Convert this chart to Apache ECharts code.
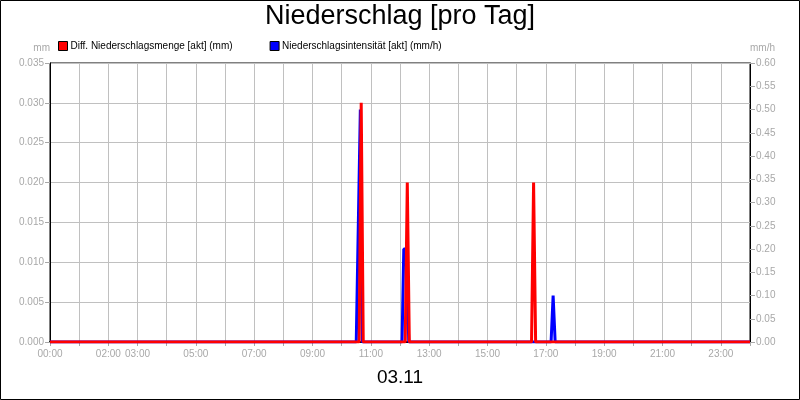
<!DOCTYPE html>
<html>
<head>
<meta charset="utf-8">
<script src="https://cdn.jsdelivr.net/npm/echarts@6/dist/echarts.min.js"></script>
<style>html,body{margin:0;padding:0;background:#fff}#c{width:800px;height:400px}</style>
</head>
<body>
<div id="c"></div>
<script>
const titleText = 'Niederschlag [pro Tag]';
const dateLabel = '03.11';
const seriesNames = ['Diff. Niederschlagsmenge [akt] (mm)', 'Niederschlagsintensität [akt] (mm/h)'];
const labelHours = [0, 2, 3, 5, 7, 9, 11, 13, 15, 17, 19, 21, 23];
// [hour of day, value]
const mengeData = [[0,0],[10.6,0],[10.67,0.03],[10.74,0],[12.18,0],[12.25,0.02],[12.32,0],[16.51,0],[16.58,0.02],[16.65,0],[24,0]];
const intensData = [[0,0],[10.5,0],[10.64,0.5],[10.71,0],[12.07,0],[12.13,0.2],[12.22,0.2],[12.3,0],[17.18,0],[17.25,0.1],[17.32,0],[24,0]];

const FONT = 'Liberation Sans';
const GRAY = '#a8a8a8';
const GRID = '#c0c0c0';
const chart = echarts.init(document.getElementById('c'), null, {renderer: 'canvas'});
const pad = h => (h < 10 ? '0' : '') + h + ':00';
chart.setOption({
  animation: false,
  backgroundColor: '#fff',
  title: {
    text: titleText, left: 'center', top: 3, padding: 0,
    textStyle: {fontFamily: FONT, fontSize: 27, fontWeight: 'normal', color: '#000'}
  },
  legend: {
    data: seriesNames, left: 58, top: 41, padding: 0, itemGap: 37,
    itemWidth: 9, itemHeight: 9, icon: 'rect',
    itemStyle: {borderColor: '#000', borderWidth: 1},
    textStyle: {fontFamily: FONT, fontSize: 10, color: '#000', padding: [0, 0, 0, -2]}
  },
  grid: {left: 50, right: 50, top: 63, bottom: 58, show: true, borderColor: '#000', borderWidth: 1, containLabel: false, outerBoundsMode: 'none'},
  xAxis: {
    type: 'value', min: 0, max: 24, interval: 1,
    axisLine: {show: true, lineStyle: {color: '#000', width: 2}},
    axisTick: {show: true, length: 4, lineStyle: {color: GRAY}},
    axisLabel: {
      color: GRAY, fontFamily: FONT, fontSize: 10, margin: 7, hideOverlap: false,
      showMinLabel: true, showMaxLabel: true,
      formatter: v => labelHours.includes(v) ? pad(v) : ''
    },
    splitLine: {show: true, lineStyle: {color: GRID, width: 1}}
  },
  yAxis: [{
    type: 'value', min: 0, max: 0.035, interval: 0.005, position: 'left',
    name: 'mm', nameLocation: 'end', nameGap: 10,
    nameTextStyle: {color: GRAY, fontFamily: FONT, fontSize: 10, align: 'right', padding: [0, 0, 0, 0]},
    axisLine: {show: true, lineStyle: {color: '#000'}},
    axisTick: {show: true, length: 5, lineStyle: {color: GRAY}},
    axisLabel: {color: GRAY, fontFamily: FONT, fontSize: 10, margin: 6, formatter: v => v.toFixed(3)},
    splitLine: {show: true, lineStyle: {color: GRID, width: 1}}
  }, {
    type: 'value', min: 0, max: 0.6, interval: 0.05, position: 'right',
    name: 'mm/h', nameLocation: 'end', nameGap: 10,
    nameTextStyle: {color: GRAY, fontFamily: FONT, fontSize: 10, align: 'left'},
    axisLine: {show: true, lineStyle: {color: '#000'}},
    axisTick: {show: true, length: 5, lineStyle: {color: GRAY}},
    axisLabel: {color: GRAY, fontFamily: FONT, fontSize: 10, margin: 6, formatter: v => v.toFixed(2)},
    splitLine: {show: false}
  }],
  series: [{
    name: seriesNames[1], type: 'line', yAxisIndex: 1, data: intensData,
    symbol: 'none', color: '#0000ff', lineStyle: {color: '#0000ff', width: 3}, z: 2
  }, {
    name: seriesNames[0], type: 'line', yAxisIndex: 0, data: mengeData,
    symbol: 'none', color: '#ff0000', lineStyle: {color: '#ff0000', width: 3}, z: 3
  }],
  graphic: [{
    type: 'text', left: 'center', top: 368,
    style: {text: dateLabel, fontFamily: FONT, fontSize: 19, fill: '#000'}
  }, {
    type: 'rect', shape: {x: 0.5, y: 0.5, width: 799, height: 399},
    style: {fill: 'none', stroke: '#000', lineWidth: 1}, silent: true, z: 100
  }]
});
</script>
</body>
</html>
